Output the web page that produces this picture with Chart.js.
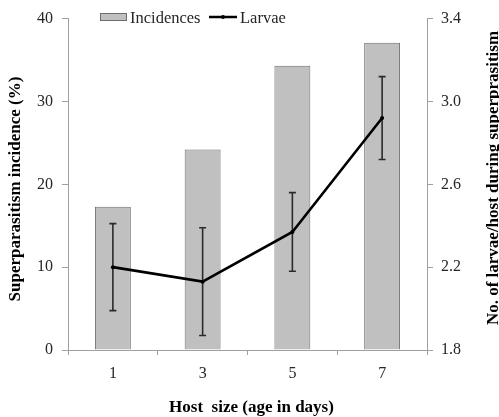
<!DOCTYPE html>
<html><head><meta charset="utf-8">
<script src="https://cdn.jsdelivr.net/npm/chart.js@4/dist/chart.umd.min.js"></script>
<style>html,body{margin:0;padding:0;background:#fff}#wrap{width:499px;height:417px}</style>
</head><body><div id="wrap"><canvas id="c" width="499" height="417"></canvas></div>
<script>
const categories = ['1', '3', '5', '7'];
const incidences = [17.3, 24.2, 34.3, 37.1];
const larvae = [2.20, 2.13, 2.37, 2.92];
const larvaeErr = [0.21, 0.26, 0.19, 0.20];
const leftTicks = [0, 10, 20, 30, 40];
const rightTicks = [1.8, 2.2, 2.6, 3.0, 3.4];
const seriesNames = ['Incidences', 'Larvae'];
const xTitle = 'Host  size (age in days)';
const leftTitle = 'Superparasitism incidence (%)';
const rightTitle = 'No. of larvae/host during superprasitism';

const SERIF = '"Liberation Serif", "Times New Roman", serif';
const AXIS = '#a0a0a0';
const TICKC = '#262626';

const extras = {
  id: 'extras',
  beforeDatasetDraw(chart, args) {
    if (args.index !== 1) return;
    const ctx = chart.ctx;
    const meta = chart.getDatasetMeta(1);
    const ys = chart.scales.y1;
    ctx.save();
    ctx.strokeStyle = '#2a2a2a';
    ctx.lineWidth = 1.6;
    meta.data.forEach((pt, i) => {
      const x = pt.x;
      const yt = ys.getPixelForValue(larvae[i] + larvaeErr[i]);
      const yb = ys.getPixelForValue(larvae[i] - larvaeErr[i]);
      ctx.beginPath();
      ctx.moveTo(x, yt); ctx.lineTo(x, yb);
      ctx.moveTo(x - 3.5, yt); ctx.lineTo(x + 3.5, yt);
      ctx.moveTo(x - 3.5, yb); ctx.lineTo(x + 3.5, yb);
      ctx.stroke();
    });
    ctx.restore();
  },
  afterDraw(chart) {
    const ctx = chart.ctx;
    const ds = chart.data.datasets;
    ctx.save();
    // legend
    ctx.fillStyle = ds[0].backgroundColor;
    ctx.strokeStyle = ds[0].borderColor;
    ctx.lineWidth = 1;
    ctx.fillRect(100.5, 13.5, 26, 7);
    ctx.strokeRect(100.5, 13.5, 26, 7);
    ctx.fillStyle = TICKC;
    ctx.font = '16.5px ' + SERIF;
    ctx.textAlign = 'left';
    ctx.textBaseline = 'alphabetic';
    ctx.fillText(ds[0].label, 130, 22.5);
    ctx.strokeStyle = ds[1].borderColor;
    ctx.lineWidth = 2.5;
    ctx.beginPath(); ctx.moveTo(209, 17); ctx.lineTo(237, 17); ctx.stroke();
    ctx.fillStyle = '#000';
    ctx.beginPath(); ctx.arc(223, 17, 2, 0, Math.PI * 2); ctx.fill();
    ctx.fillStyle = TICKC;
    ctx.fillText(ds[1].label, 240, 22.5);
    // titles
    ctx.fillStyle = '#000';
    ctx.font = 'bold 17px ' + SERIF;
    ctx.textAlign = 'center';
    ctx.fillText(xTitle, 251.5, 412);
    ctx.save();
    ctx.translate(20, 189); ctx.rotate(-Math.PI / 2);
    ctx.fillText(leftTitle, 0, 0);
    ctx.restore();
    ctx.save();
    ctx.translate(498, 178); ctx.rotate(-Math.PI / 2);
    ctx.fillText(rightTitle, 0, 0);
    ctx.restore();
    ctx.restore();
  }
};

const gridOpts = (len) => ({ display: true, drawOnChartArea: false, drawTicks: true, tickLength: len, color: AXIS, lineWidth: 1 });

new Chart(document.getElementById('c'), {
  data: {
    labels: categories,
    datasets: [
      { type: 'bar', label: seriesNames[0], data: incidences, yAxisID: 'y',
        backgroundColor: '#c0c0c0', borderColor: '#6e6e6e', borderWidth: 1,
        barPercentage: 0.8, categoryPercentage: 0.5, order: 2 },
      { type: 'line', label: seriesNames[1], data: larvae, yAxisID: 'y1',
        borderColor: '#000', borderWidth: 2.6, tension: 0,
        pointRadius: 2, pointBackgroundColor: '#000', pointBorderWidth: 0, order: 1 }
    ]
  },
  options: {
    responsive: false,
    animation: false,
    devicePixelRatio: 1,
    layout: { padding: { top: 13, left: 0, right: 0, bottom: 0 } },
    plugins: { legend: { display: false }, tooltip: { enabled: false } },
    scales: {
      x: {
        type: 'category',
        grid: Object.assign(gridOpts(5), { offset: true }),
        border: { display: true, color: AXIS },
        ticks: { font: { family: SERIF, size: 16 }, color: TICKC, padding: 9 },
        afterFit: s => { s.height = 67; }
      },
      y: {
        position: 'left', min: 0, max: 40,
        grid: gridOpts(6),
        border: { display: true, color: AXIS },
        afterBuildTicks: s => { s.ticks = leftTicks.map(v => ({ value: v })); },
        ticks: { font: { family: SERIF, size: 16 }, color: TICKC, padding: 9 },
        afterFit: s => { s.width = 68; }
      },
      y1: {
        position: 'right', min: 1.8, max: 3.4,
        grid: gridOpts(6),
        border: { display: true, color: AXIS },
        afterBuildTicks: s => { s.ticks = rightTicks.map(v => ({ value: v })); },
        ticks: { font: { family: SERIF, size: 16 }, color: TICKC, padding: 8,
                 callback: v => Number(v).toFixed(1) },
        afterFit: s => { s.width = 72; }
      }
    }
  },
  plugins: [extras]
});
</script>
</body></html>
